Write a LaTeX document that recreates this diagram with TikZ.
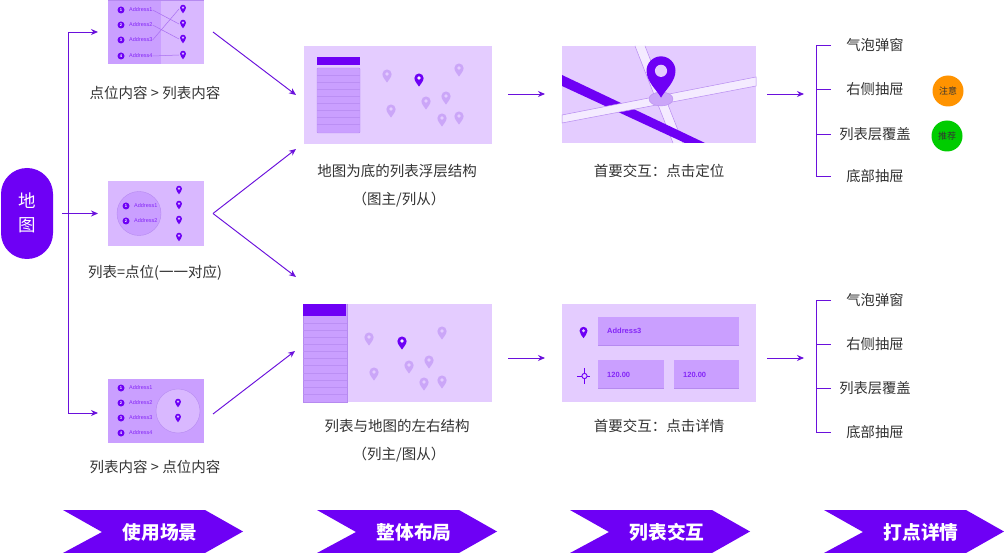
\documentclass[tikz,border=0pt]{standalone}
\usepackage{fontspec}
\setmainfont{Noto Sans CJK SC}
\newfontfamily\latinf{Liberation Sans}
\usetikzlibrary{arrows.meta}
\definecolor{vio}{HTML}{6E00F5}
\definecolor{linev}{HTML}{6A10DC}
\definecolor{bgl}{HTML}{E4CCFF}
\definecolor{thl}{HTML}{D9B8FF}
\definecolor{thd}{HTML}{CA9FFF}
\definecolor{edgev}{HTML}{B68AF0}
\definecolor{pinl}{HTML}{CBA6F8}
\definecolor{txt}{HTML}{333333}
\tikzset{
  flow/.style={draw=linev,line width=.95pt,-{Stealth[length=7pt,width=6pt]}},
  plainl/.style={draw=linev,line width=.95pt},
  thumb/.style={rectangle,fill=#1,inner sep=0pt,outer sep=0pt},
  captext/.style={text=txt,font=\fontsize{14.5}{17}\selectfont,inner sep=0pt},
  itemtext/.style={text=txt,font=\fontsize{14.3}{17}\selectfont,inner sep=0pt},
  numdot/.style={circle,fill=vio,text=white,inner sep=0pt,minimum size=7pt,font=\latinf\fontsize{4}{4}\selectfont\bfseries},
  addr/.style={anchor=west,text=vio!85!white,inner sep=0pt,font=\latinf\fontsize{5.5}{6}\selectfont},
  inbox/.style={anchor=west,text=vio!85!white,inner sep=0pt,font=\latinf\fontsize{7.5}{9}\selectfont\bfseries},
  thinlink/.style={draw=edgev!80!vio,line width=.5pt},
  bannerfill/.style={fill=vio},
  bannertext/.style={text=white,inner sep=0pt,font=\fontsize{18.7}{22}\selectfont\bfseries},
  tagdot/.style={circle,inner sep=0pt,minimum size=31pt,text=txt,font=\fontsize{9}{10}\selectfont},
  rowline/.style={draw=edgev!75!thd,line width=.6pt},
}
% name, x, y (visual centre), head radius, colour, hole colour
\newcommand{\pinmark}[6]{%
  \coordinate (#1) at (#2,#3);
  \begin{scope}[shift={(#2,#3)},yshift=0.425*#4pt,x=#4pt,y=-#4pt]
    \fill[#5] (0,1.85) .. controls (-.3,1.3) and (-1,.75) .. (-1,0)
      .. controls (-1,-.55) and (-.55,-1) .. (0,-1)
      .. controls (.55,-1) and (1,-.55) .. (1,0)
      .. controls (1,.75) and (.3,1.3) .. (0,1.85) -- cycle;
    \fill[#6] (0,0) circle[radius=.42];
  \end{scope}}
\newcommand{\chev}[3]{%
  \fill[bannerfill] (#1,510) -- (#1+142,510) -- (#1+180,531.5) -- (#1+142,553) -- (#1,553) -- (#1+39,532) -- cycle;
  \node[bannertext] (#2) at (#1+97,532) {#3};}
\begin{document}
\begin{tikzpicture}[x=1pt,y=-1pt]
\useasboundingbox (0,0) rectangle (1004,553);
\fill[white] (0,0) rectangle (1004,553);

% pill
\node[rectangle,rounded corners=26pt,fill=vio,text=white,minimum width=52pt,minimum height=91pt,inner sep=0pt,align=center,font=\fontsize{17.5}{24}\selectfont] (pill) at (27,213.5) {\raisebox{2pt}{地}\\\raisebox{2pt}{图}};

% thumbnails
\node[thumb=thl,minimum width=96pt,minimum height=64pt] (t1) at (156,32) {};
\fill[thd] (108,0) rectangle (161,64);
\fill[edgev] (108,0) rectangle (204,.8);
\node[thumb=thl,minimum width=96pt,minimum height=65pt] (t2) at (156,213.5) {};
\node[thumb=thd,minimum width=96pt,minimum height=64pt] (t3) at (156,411) {};
\draw[fill=thd,draw=edgev] (139,213.5) circle[radius=22];
\draw[fill=thl,draw=edgev] (178,411) circle[radius=22];

% thumb 1 content
\foreach \i/\yy in {1/10,2/25,3/40,4/56}{
  \node[numdot] (t1n\i) at (121,\yy) {\i};
  \node[addr] (t1a\i) at (129,\yy) {Address\i};
}
\pinmark{t1p1}{183}{9}{3}{vio}{thl}
\pinmark{t1p2}{183}{24}{3}{vio}{thl}
\pinmark{t1p3}{183}{39}{3}{vio}{thl}
\pinmark{t1p4}{183}{55}{3}{vio}{thl}
\draw[thinlink] (t1a1.east) -- ([xshift=-4pt]t1p2);
\draw[thinlink] (t1a2.east) -- ([xshift=-4pt]t1p3);
\draw[thinlink] (t1a3.east) -- ([xshift=-4pt]t1p1);
\draw[thinlink] (t1a4.east) -- ([xshift=-4pt]t1p4);

% thumb 2 content
\foreach \i/\yy in {1/206,2/221}{
  \node[numdot] (t2n\i) at (126,\yy) {\i};
  \node[addr] (t2a\i) at (134,\yy) {Address\i};
}
\pinmark{t2p1}{179}{190}{3}{vio}{thl}
\pinmark{t2p2}{179}{205}{3}{vio}{thl}
\pinmark{t2p3}{179}{220}{3}{vio}{thl}
\pinmark{t2p4}{179}{237}{3}{vio}{thl}

% thumb 3 content
\foreach \i/\yy in {1/388,2/403,3/418,4/433}{
  \node[numdot] (t3n\i) at (121,\yy) {\i};
  \node[addr] (t3a\i) at (129,\yy) {Address\i};
}
\pinmark{t3p1}{178}{403}{3}{vio}{thl}
\pinmark{t3p2}{178}{418}{3}{vio}{thl}

% main panel 1
\node[thumb=bgl,minimum width=188pt,minimum height=98pt] (m1) at (398,95) {};
\fill[vio] (317,57) rectangle (360,65);
\draw[fill=thd,draw=edgev,rounded corners=1pt] (317,68) rectangle (360,133);
\foreach \yy in {75,82,89,96,103,110,117,124}{\draw[rowline] (317,\yy) -- (360,\yy);}
\foreach \n/\xx/\yy in {a/387/76,b/459/70,c/446/98,d/426/103,e/391/111,f/442/120,g/459/118}{
  \pinmark{m1\n}{\xx}{\yy}{4.6}{pinl}{bgl}
}
\pinmark{m1h}{419}{80}{4.6}{vio}{white!70!bgl}

% main panel 2
\node[thumb=bgl,minimum width=189pt,minimum height=98pt] (m2) at (397.5,353) {};
\fill[thd] (303,304) rectangle (347,402);
\draw[edgev,line width=.6pt] (347,304) -- (347,402) -- (303,402) -- (303,304);
\fill[vio] (303,304) rectangle (346,316);
\foreach \yy in {323,330,337,344,351,358,365,373,380,387,394}{\draw[rowline] (303,\yy) -- (347,\yy);}
\foreach \n/\xx/\yy in {a/369/339,b/442/333,c/429/362,d/409/367,e/374/374,f/424/384,g/442/382}{
  \pinmark{m2\n}{\xx}{\yy}{4.6}{pinl}{bgl}
}
\pinmark{m2h}{402}{343}{4.6}{vio}{white!70!bgl}

% main panel 3 (map)
\node[thumb=bgl,minimum width=194pt,minimum height=97pt] (m3) at (659,94.5) {};
\fill[white!60!bgl] (635,46) -- (645,46) -- (683,143) -- (673,143) -- cycle;
\draw[edgev,line width=.5pt] (635,46) -- (673,143) (645,46) -- (683,143);
\fill[vio] (562,75) -- (705,143) -- (685,143) -- (562,86) -- cycle;
\draw[fill=white!60!bgl,draw=edgev,line width=.5pt] (562,115) -- (756,77) -- (756,86) -- (562,123) -- cycle;
\fill[pinl] (661,99) ellipse[x radius=12,y radius=7];
\draw[edgev,line width=.4pt] (661,99) ellipse[x radius=12,y radius=7];
\pinmark{m3p}{661}{77}{14.5}{vio}{bgl}

% main panel 4 (details)
\node[thumb=bgl,minimum width=194pt,minimum height=97pt] (m4) at (659,353) {};
\node[thumb=thd,minimum width=141pt,minimum height=28pt] (m4a) at (668.5,331) {};
\node[thumb=thd,minimum width=66pt,minimum height=28pt] (m4b) at (631,374) {};
\node[thumb=thd,minimum width=65pt,minimum height=28pt] (m4c) at (706.5,374) {};
\draw[edgev,line width=.7pt] (598,345) -- (739,345) (598,388) -- (664,388) (674,388) -- (739,388);
\node[inbox] (m4at) at (607,331) {Address3};
\node[inbox] (m4bt) at (607,374.5) {120.00};
\node[inbox] (m4ct) at (683,374.5) {120.00};
\pinmark{m4p}{583.5}{332.5}{4}{vio}{bgl}
\draw[vio,line width=.9pt] (577,376) -- (590,376) (584.5,368) -- (584.5,384);
\draw[vio,line width=.9pt,fill=bgl] (584.5,376) circle[radius=2.6];

% captions
\node[captext] (c1) at (155,93) {点位内容 > 列表内容};
\node[captext] (c2) at (155,273) {列表=点位(一一对应)};
\node[captext] (c3) at (155,467) {列表内容 > 点位内容};
\node[captext] (c4) at (397,171) {地图为底的列表浮层结构};
\node[captext] (c5) at (399,200) {（图主/列从）};
\node[captext] (c6) at (659,171) {首要交互：点击定位};
\node[captext] (c7) at (397,426) {列表与地图的左右结构};
\node[captext] (c8) at (399,455) {（列主/图从）};
\node[captext] (c9) at (659,426) {首要交互：点击详情};

% connectors from the pill
\coordinate (trunkT) at (68,32);
\coordinate (trunkB) at (68,413);
\coordinate (in1) at ([xshift=-10pt]t1.west);
\coordinate (in2) at ([xshift=-10pt]t2.west);
\coordinate (in3) at (98,413);
\draw[plainl] (trunkT) -- (trunkB);
\draw[flow] (trunkT) -- (in1);
\draw[flow] (trunkB) -- (in3);
\draw[flow] ([xshift=9pt]pill.east) -- (in2);

% connectors to the panels
\coordinate (o1) at ([xshift=9pt]t1.east);
\coordinate (o2) at ([xshift=9pt]t2.east);
\coordinate (o3) at (213,414);
\coordinate (p1) at (296,95);
\coordinate (p2) at (296,149);
\coordinate (p3) at (296,277);
\coordinate (p4) at (295,351);
\draw[flow] (o1) -- (p1);
\draw[flow] (o2) -- (p2);
\draw[flow] (o2) -- (p3);
\draw[flow] (o3) -- (p4);
\coordinate (q1) at (508,94);
\coordinate (q2) at (545,94);
\coordinate (q3) at (767,94);
\coordinate (q4) at (804,94);
\coordinate (q5) at (508,358);
\coordinate (q6) at (545,358);
\coordinate (q7) at (767,358);
\coordinate (q8) at (804,358);
\draw[flow] (q1) -- (q2);
\draw[flow] (q3) -- (q4);
\draw[flow] (q5) -- (q6);
\draw[flow] (q7) -- (q8);

% item lists
\foreach \k/\ya/\yb/\yc/\yd in {u/45/89/134/176,v/300/344/388/432}{
  \node[itemtext] (\k1) at (875,\ya) {气泡弹窗};
  \node[itemtext] (\k2) at (875,\yb) {右侧抽屉};
  \node[itemtext] (\k3) at (875,\yc) {列表层覆盖};
  \node[itemtext] (\k4) at (875,\yd) {底部抽屉};
  \draw[plainl] (831,\ya) -- (816,\ya) -- (816,\yd) -- (831,\yd);
  \draw[plainl] (816,\yb) -- (831,\yb);
  \draw[plainl] (816,\yc) -- (831,\yc);
}
\node[tagdot,fill=orange!85!yellow] (tg1) at (948,91) {注意};
\node[tagdot,fill=green!80!black] (tg2) at (947,136) {推荐};

% banners
\chev{63}{b1}{使用场景}
\chev{317}{b2}{整体布局}
\chev{570}{b3}{列表交互}
\chev{824}{b4}{打点详情}
\end{tikzpicture}
\end{document}
